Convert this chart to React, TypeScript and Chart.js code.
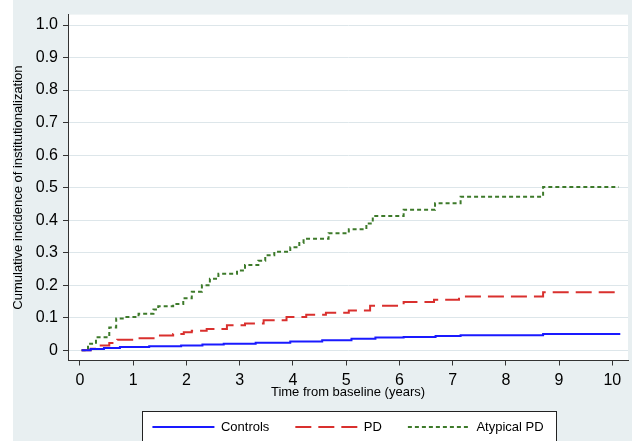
import React, { useEffect, useRef } from 'react';
import { Chart, registerables } from 'chart.js';

Chart.register(...registerables);

const seriesLabels = ['Controls', 'PD', 'Atypical PD'];

const controlsTime = [0.03, 0.2, 0.45, 0.75, 1.3, 1.9, 2.3, 2.7, 3.3, 3.95, 4.55, 5.1, 5.55, 6.08, 6.68, 7.15, 8.7, 10.15];
const controlsValue = [0, 0.004, 0.007, 0.01, 0.012, 0.015, 0.018, 0.02, 0.023, 0.027, 0.031, 0.035, 0.039, 0.041, 0.044, 0.046, 0.05, 0.05];

const pdTime = [0.03, 0.2, 0.35, 0.55, 0.7, 1.1, 1.48, 1.75, 1.95, 2.1, 2.38, 2.76, 3.1, 3.45, 3.88, 4.25, 4.62, 5.05, 5.45, 6.08, 6.65, 7.12, 8.7, 10.15];
const pdValue = [0, 0.005, 0.015, 0.022, 0.032, 0.037, 0.045, 0.05, 0.055, 0.06, 0.065, 0.077, 0.082, 0.092, 0.102, 0.109, 0.115, 0.122, 0.137, 0.148, 0.155, 0.165, 0.178, 0.178];

const atypicalTime = [0.03, 0.15, 0.3, 0.55, 0.68, 0.85, 1.1, 1.38, 1.47, 1.75, 1.94, 2.1, 2.29, 2.44, 2.6, 2.95, 3.1, 3.35, 3.48, 3.65, 3.95, 4.12, 4.2, 4.67, 5.05, 5.38, 5.5, 6.08, 6.67, 7.15, 8.7, 10.12];
const atypicalValue = [0, 0.02, 0.04, 0.07, 0.098, 0.102, 0.112, 0.125, 0.135, 0.142, 0.16, 0.18, 0.2, 0.22, 0.235, 0.245, 0.262, 0.275, 0.292, 0.303, 0.317, 0.33, 0.343, 0.36, 0.372, 0.39, 0.413, 0.432, 0.452, 0.472, 0.502, 0.502];

const xTickValues = [0, 1, 2, 3, 4, 5, 6, 7, 8, 9, 10];
const yTickValues = [0, 0.1, 0.2, 0.3, 0.4, 0.5, 0.6, 0.7, 0.8, 0.9, 1.0];

const xTitle = 'Time from baseline (years)';
const yTitle = 'Cumulative incidence of institutionalization';

const FONT = 'Arial, "Liberation Sans", Helvetica, sans-serif';
const BG = '#e8eff1';

const toPoints = (t: number[], v: number[]) => t.map((x, i) => ({ x, y: v[i] }));

const backgroundPlugin = {
  id: 'stataBackground',
  beforeDraw(chart: any) {
    const { ctx, chartArea, width, height } = chart;
    ctx.save();
    ctx.fillStyle = '#ffffff';
    ctx.fillRect(0, 0, width, height);
    ctx.fillStyle = BG;
    ctx.fillRect(13, 0, width - 13, height);
    ctx.fillStyle = '#ffffff';
    ctx.fillRect(chartArea.left, chartArea.top, chartArea.right - chartArea.left, chartArea.bottom - chartArea.top);
    const lg = chart.legend;
    if (lg && lg.legendHitBoxes && lg.legendHitBoxes.length) {
      const hb = lg.legendHitBoxes;
      const first = hb[0];
      const last = hb[hb.length - 1];
      const l = Math.round(first.left - 10);
      const r = Math.round(last.left + last.width + 12);
      const t = Math.round(first.top - 10);
      ctx.fillStyle = '#ffffff';
      ctx.fillRect(l, t, r - l, height - t + 5);
      ctx.strokeStyle = '#222222';
      ctx.lineWidth = 1;
      ctx.strokeRect(l + 0.5, t + 0.5, r - l, height - t + 5);
    }
    ctx.restore();
  },
};

export default function App() {
  const canvasRef = useRef<HTMLCanvasElement | null>(null);

  useEffect(() => {
    if (!canvasRef.current) return;
    const datasets = [
      {
        label: seriesLabels[0],
        data: toPoints(controlsTime, controlsValue),
        borderColor: '#1a1aff',
        backgroundColor: '#1a1aff',
        borderWidth: 2,
        borderDash: [] as number[],
        stepped: 'before' as const,
        pointRadius: 0,
        fill: false,
      },
      {
        label: seriesLabels[1],
        data: toPoints(pdTime, pdValue),
        borderColor: '#d9302e',
        backgroundColor: '#d9302e',
        borderWidth: 2,
        borderDash: [16, 7],
        stepped: 'before' as const,
        pointRadius: 0,
        fill: false,
      },
      {
        label: seriesLabels[2],
        data: toPoints(atypicalTime, atypicalValue),
        borderColor: '#3d7a2a',
        backgroundColor: '#3d7a2a',
        borderWidth: 2,
        borderDash: [4, 3],
        stepped: 'before' as const,
        pointRadius: 0,
        fill: false,
      },
    ];

    const chart = new Chart(canvasRef.current, {
      type: 'line',
      data: { datasets },
      plugins: [backgroundPlugin],
      options: {
        animation: false,
        responsive: false,
        devicePixelRatio: 1,
        layout: { padding: { left: 0, right: 4, top: 6, bottom: -2.5 } },
        plugins: {
          tooltip: { enabled: false },
          legend: {
            position: 'bottom',
            fullSize: false,
            labels: {
              usePointStyle: true,
              pointStyleWidth: 62,
              padding: 26,
              color: '#000000',
              font: { family: FONT, size: 13 },
              generateLabels: (c: any) =>
                c.data.datasets.map((ds: any, i: number) => ({
                  text: ds.label,
                  fillStyle: ds.borderColor,
                  strokeStyle: ds.borderColor,
                  lineWidth: ds.borderWidth,
                  lineDash: ds.borderDash || [],
                  lineCap: 'butt',
                  pointStyle: 'line',
                  hidden: false,
                  datasetIndex: i,
                  fontColor: '#000000',
                })),
            },
          },
        },
        scales: {
          x: {
            type: 'linear',
            min: -0.2254,
            max: 10.295,
            afterBuildTicks: (s: any) => {
              s.ticks = xTickValues.map((v) => ({ value: v }));
            },
            afterFit: (s: any) => {
              s.height = 34;
            },
            grid: {
              drawOnChartArea: false,
              drawTicks: true,
              tickLength: 5,
              tickColor: '#333333',
              tickWidth: 1,
            },
            border: { display: true, color: '#333333', width: 1 },
            ticks: {
              color: '#000000',
              font: { family: FONT, size: 16 },
              padding: 5,
              maxRotation: 0,
              autoSkip: false,
              callback: (v: any) => String(v),
            },
            title: {
              display: true,
              text: xTitle,
              color: '#000000',
              font: { family: FONT, size: 13 },
              padding: { top: 0, bottom: -6 },
            },
          },
          y: {
            type: 'linear',
            min: -0.0315,
            max: 1.032,
            afterBuildTicks: (s: any) => {
              s.ticks = yTickValues.map((v) => ({ value: v }));
            },
            afterFit: (s: any) => {
              s.width = 68;
            },
            grid: {
              color: '#dde6ea',
              lineWidth: 1,
              drawTicks: true,
              tickLength: 5,
              tickColor: '#333333',
              tickWidth: 1,
            },
            border: { display: true, color: '#333333', width: 1 },
            ticks: {
              color: '#000000',
              font: { family: FONT, size: 16 },
              padding: 5,
              autoSkip: false,
              callback: (v: any) => (Number(v) === 0 ? '0' : Number(v).toFixed(1)),
            },
            title: {
              display: true,
              text: yTitle,
              color: '#000000',
              font: { family: FONT, size: 13 },
              padding: { top: 11, bottom: 0 },
            },
          },
        },
      },
    } as any);

    return () => {
      chart.destroy();
    };
  }, []);

  return (
    <div style={{ position: 'absolute', left: 0, top: 0, width: 632, height: 441, overflow: 'hidden' }}>
      <canvas ref={canvasRef} width={632} height={441} style={{ display: 'block', width: 632, height: 441 }} />
    </div>
  );
}
